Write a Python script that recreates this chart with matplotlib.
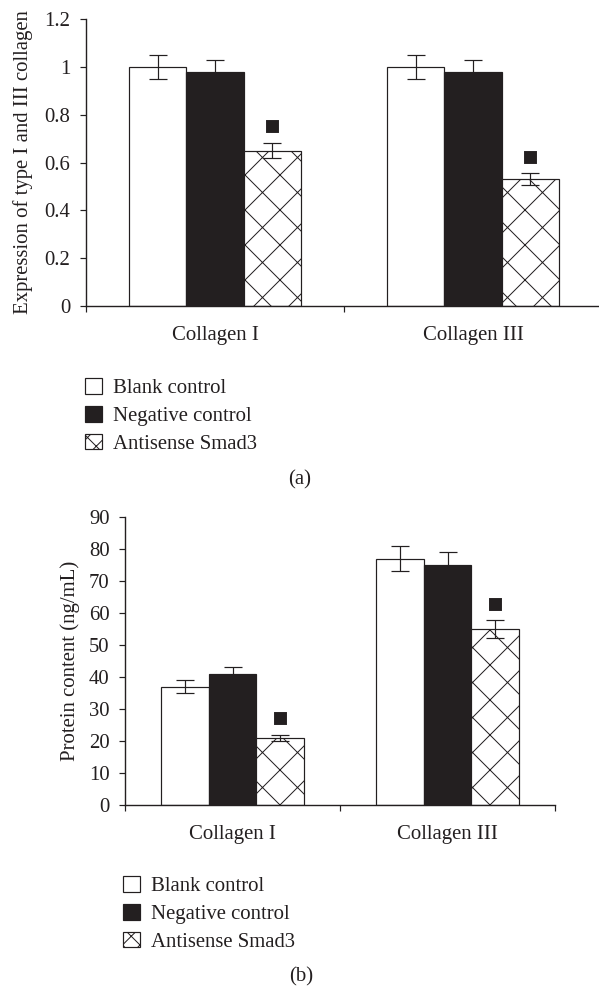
import matplotlib
matplotlib.use("Agg")
import matplotlib.pyplot as plt
from matplotlib.patches import Patch
from matplotlib.ticker import FuncFormatter, FixedLocator
import numpy as np

# data
categories = ['Collagen I', 'Collagen III']
groups = ['Blank control', 'Negative control', 'Antisense Smad3']

expr_blank = [1.0, 1.0]
expr_neg = [0.98, 0.98]
expr_anti = [0.65, 0.53]
expr_blank_err = [0.05, 0.05]
expr_neg_err = [0.05, 0.05]
expr_anti_err = [0.033, 0.025]

prot_blank = [37, 77]
prot_neg = [41, 75]
prot_anti = [21, 55]
prot_blank_err = [2, 4]
prot_neg_err = [2.2, 4]
prot_anti_err = [1, 2.8]

ink = '#231f20'
DPI = 210
W, H = 599, 989
px = 72.0 / DPI  # one pixel in points
fs = 7.1

plt.rcParams['font.family'] = ['Liberation Serif', 'DejaVu Serif']
plt.rcParams['hatch.linewidth'] = 1.0 * px
plt.rcParams['text.color'] = ink

fig = plt.figure(figsize=(W / DPI, H / DPI), dpi=DPI)


def panel(rect, values, errors, ylim, yticks, ylabel, label_x):
    ax = fig.add_axes(rect)
    x = np.arange(len(categories))
    w = 0.222
    styles = [dict(facecolor='white', edgecolor=ink),
              dict(facecolor=ink, edgecolor=ink),
              dict(facecolor='white', edgecolor=ink, hatch='xx')]
    for i, (vals, errs, st) in enumerate(zip(values, errors, styles)):
        xs = x + (i - 1) * w
        ax.bar(xs, vals, w, linewidth=1.2 * px, zorder=2, **st)
        ax.errorbar(xs, vals, yerr=errs, fmt='none', ecolor=ink,
                    elinewidth=1.2 * px, capsize=9 * px, capthick=1.2 * px, zorder=3)
    # significance markers above the antisense bars
    xs = x + w
    tops = np.array(values[2]) + np.array(errors[2]) + 0.057 * ylim[1]
    ax.plot(xs, tops, 's', color=ink, markersize=9.5 * px, zorder=4)

    ax.set_xlim(-0.5, len(categories) - 0.5)
    ax.set_ylim(*ylim)
    ax.set_yticks(yticks)
    ax.yaxis.set_major_formatter(FuncFormatter(lambda v, p: '%g' % v))
    ax.set_xticks(x)
    ax.set_xticklabels(categories)
    ax.xaxis.set_minor_locator(FixedLocator(np.arange(len(categories) + 1) - 0.5))
    ax.tick_params(axis='x', which='major', length=0, pad=7.0, labelsize=fs, labelcolor=ink)
    ax.tick_params(axis='x', which='minor', length=6 * px, width=1.2 * px, color=ink, direction='out')
    ax.tick_params(axis='y', length=6 * px, width=1.2 * px, color=ink, pad=3.3,
                   labelsize=fs, labelcolor=ink, direction='out')
    for s in ['top', 'right']:
        ax.spines[s].set_visible(False)
    for s in ['left', 'bottom']:
        ax.spines[s].set_color(ink)
        ax.spines[s].set_linewidth(1.4 * px)
    ax.set_ylabel(ylabel, fontsize=fs, color=ink)
    ax.yaxis.set_label_coords(label_x, 0.5)
    return ax


# panel (a)
ax1 = panel([86 / W, 1 - 306 / H, 516 / W, 287 / H],
            [expr_blank, expr_neg, expr_anti],
            [expr_blank_err, expr_neg_err, expr_anti_err],
            (0, 1.2), np.arange(0, 1.21, 0.2),
            'Expression of type I and III collagen', (33 - 86) / 516)

# panel (b)
ax2 = panel([125 / W, 1 - 805 / H, 430 / W, 288 / H],
            [prot_blank, prot_neg, prot_anti],
            [prot_blank_err, prot_neg_err, prot_anti_err],
            (0, 90), np.arange(0, 91, 10),
            'Protein content (ng/mL)', (80 - 125) / 430)

handles = [Patch(facecolor='white', edgecolor=ink, linewidth=1.2 * px),
           Patch(facecolor=ink, edgecolor=ink, linewidth=1.2 * px),
           Patch(facecolor='white', edgecolor=ink, hatch='xxxx', linewidth=1.2 * px)]

for lx, ly in [(85, 378), (123, 876)]:
    fig.legend(handles, groups, loc='upper left',
               bbox_to_anchor=(lx / W, 1 - ly / H), bbox_transform=fig.transFigure,
               frameon=False, fontsize=fs, borderpad=0, borderaxespad=0,
               handlelength=0.8, handleheight=0.8, handletextpad=0.55,
               labelspacing=0.37)

fig.text(300 / W, 1 - 480 / H, '(a)', ha='center', va='center', fontsize=fs)
fig.text(301 / W, 1 - 977 / H, '(b)', ha='center', va='center', fontsize=fs)

fig.savefig('out.png', dpi=DPI)
